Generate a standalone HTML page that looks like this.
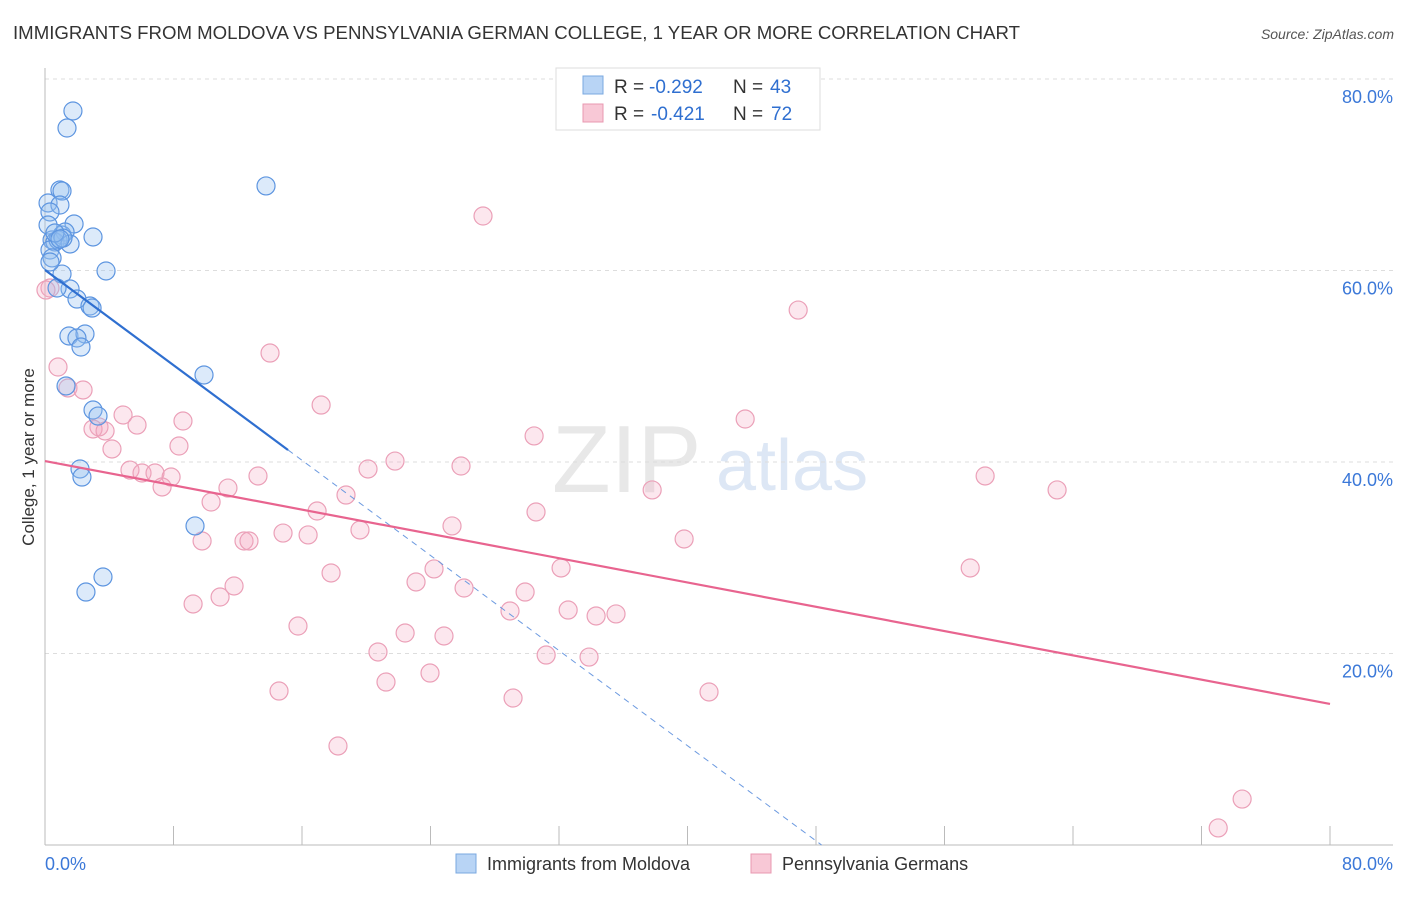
<!DOCTYPE html>
<html><head><meta charset="utf-8"><style>
body{margin:0;background:#fff;font-family:"Liberation Sans",sans-serif}
svg text{font-family:"Liberation Sans",sans-serif}
</style></head><body>
<svg id="chart" width="1406" height="892" xmlns="http://www.w3.org/2000/svg">
<text x="13" y="39" font-size="18" fill="#333" textLength="1007" lengthAdjust="spacingAndGlyphs">IMMIGRANTS FROM MOLDOVA VS PENNSYLVANIA GERMAN COLLEGE, 1 YEAR OR MORE CORRELATION CHART</text>
<text x="1394" y="39" font-size="14" fill="#555" text-anchor="end" font-style="italic">Source: ZipAtlas.com</text>
<text x="552" y="492" font-size="96" fill="#e8e8e8" font-family="Liberation Serif">ZIP</text>
<text x="716" y="490" font-size="72" fill="#dde7f5">atlas</text>
<g id="grid"></g>
<g id="axes"></g>
<g id="pts"></g>
<g id="lines"></g>
<text transform="translate(34,457) rotate(-90)" font-size="17" fill="#333" text-anchor="middle">College, 1 year or more</text>
<g>
<rect x="556" y="68" width="264" height="62" fill="#fff" stroke="#ddd"/>
<rect x="583" y="76" width="20" height="18" fill="#b8d4f5" stroke="#7aa8e0"/>
<rect x="583" y="104" width="20" height="18" fill="#f8c8d6" stroke="#e898b0"/>
<text x="614" y="93" font-size="19" fill="#333">R =</text>
<text x="649" y="93" font-size="19" fill="#2f6fd0">-0.292</text>
<text x="733" y="93" font-size="19" fill="#333">N =</text>
<text x="770" y="93" font-size="19" fill="#2f6fd0">43</text>
<text x="614" y="120" font-size="19" fill="#333">R =</text>
<text x="651" y="120" font-size="19" fill="#2f6fd0">-0.421</text>
<text x="733" y="120" font-size="19" fill="#333">N =</text>
<text x="771" y="120" font-size="19" fill="#2f6fd0">72</text>
</g>
<g>
<rect x="456" y="854" width="20" height="19" fill="#b8d4f5" stroke="#7aa8e0"/>
<text x="487" y="870" font-size="18" fill="#333">Immigrants from Moldova</text>
<rect x="751" y="854" width="20" height="19" fill="#f8c8d6" stroke="#e898b0"/>
<text x="782" y="870" font-size="18" fill="#333">Pennsylvania Germans</text>
</g>
</svg>
<script>
const blueX=[1.74,1.37,13.76,0.93,1.06,0.19,0.93,1.81,0.31,0.19,0.44,1.06,1.25,0.62,0.81,1.56,0.31,0.44,3.80,1.06,1.56,0.75,1.99,2.80,2.93,1.49,2.49,1.99,2.24,9.90,1.31,2.99,3.30,2.18,2.30,9.34,3.61,2.55,0.31,1.12,2.99,0.62,0.93];
const blueY=[76.66,74.88,68.83,68.41,68.30,67.05,66.84,64.86,66.11,64.75,63.19,63.71,64.02,62.98,63.19,62.77,62.14,61.31,59.95,59.63,58.07,58.17,57.02,56.29,56.08,53.16,53.37,52.95,52.01,49.09,47.94,45.43,44.80,39.27,38.43,33.32,27.99,26.42,60.89,63.39,63.50,63.92,63.29];
const pinkX=[0.31,0.81,1.43,2.37,3.36,2.99,4.86,5.73,3.74,4.17,8.59,8.34,14.01,17.19,5.29,6.04,6.85,7.85,7.29,10.34,11.39,13.26,9.78,12.39,12.70,14.82,16.38,16.94,18.74,19.61,20.11,21.79,25.90,27.27,30.45,30.57,25.34,23.10,24.22,26.09,17.81,15.75,9.22,10.90,11.77,14.57,18.24,20.73,21.23,22.42,23.97,24.84,29.14,28.95,29.89,31.20,32.13,32.57,33.87,34.31,35.55,37.80,39.79,41.34,43.59,46.89,57.60,58.53,63.01,73.04,74.53,0.06];
const pinkY=[58.17,49.92,47.73,47.52,43.66,43.45,44.91,43.86,43.24,41.36,44.28,41.67,51.38,45.95,39.16,38.85,38.85,38.43,37.39,35.82,37.28,38.54,31.75,31.75,31.75,32.58,32.38,34.88,36.55,32.90,39.27,40.10,39.58,65.69,42.72,34.78,33.32,27.47,28.83,26.84,28.41,22.87,25.17,25.90,27.05,16.08,10.34,20.16,17.02,22.14,17.96,21.83,15.35,24.44,26.42,19.84,28.93,24.54,19.63,23.92,24.13,37.08,31.96,15.98,44.49,55.87,28.93,38.54,37.08,1.78,4.80,57.96];
const yTicks=[20,40,60,80];
const yTickLabels=["20.0%","40.0%","60.0%","80.0%"];
const xTicks=[0,8,16,24,32,40,48,56,64,72,80];
const blueTrend=[60.05,-1.242,15.13];
const pinkTrend=[40.1,-0.3171];
const NS="http://www.w3.org/2000/svg";
const sx=v=>45+v*1285/80, sy=v=>845-v*766/80;
function mk(p,t,a){const e=document.createElementNS(NS,t);for(const k in a)e.setAttribute(k,a[k]);document.getElementById(p).appendChild(e);return e;}
yTicks.forEach((t,i)=>{
 const g=mk('grid','line',{x1:45,x2:1393,y1:sy(t),y2:sy(t),stroke:'#ddd','stroke-dasharray':'4,4'});
 
 
 const l=mk('axes','text',{x:1393,y:sy(t)+24,'font-size':18,fill:'#3b78d8','text-anchor':'end'});
 l.textContent=yTickLabels[i];
 
 
});
const ax=mk('axes','line',{x1:45,x2:1393,y1:845,y2:845,stroke:'#bbb'});


const ay=mk('axes','line',{x1:45,x2:45,y1:68,y2:845,stroke:'#bbb'});


xTicks.forEach(t=>{const k=mk('axes','line',{x1:sx(t),x2:sx(t),y1:826,y2:845,stroke:'#bbb'});
 
 });
const x0=mk('axes','text',{x:45,y:870,'font-size':18,fill:'#3b78d8'});x0.textContent='0.0%';


const x1=mk('axes','text',{x:1393,y:870,'font-size':18,fill:'#3b78d8','text-anchor':'end'});x1.textContent='80.0%';


pinkX.forEach((x,i)=>{const c=mk('pts','circle',{cx:sx(x),cy:sy(pinkY[i]),r:9,fill:'rgba(246,170,195,0.28)',stroke:'#eba0b8','stroke-width':1.2});
 
 });
blueX.forEach((x,i)=>{const c=mk('pts','circle',{cx:sx(x),cy:sy(blueY[i]),r:9,fill:'rgba(150,190,240,0.33)',stroke:'#5d95e0','stroke-width':1.2});
 
 });
const bz=-blueTrend[0]/blueTrend[1];
const b1=mk('lines','line',{x1:sx(0),y1:sy(blueTrend[0]),x2:sx(blueTrend[2]),y2:sy(blueTrend[0]+blueTrend[1]*blueTrend[2]),stroke:'#2f6fd0','stroke-width':2.2});


const b2=mk('lines','line',{x1:sx(blueTrend[2]),y1:sy(blueTrend[0]+blueTrend[1]*blueTrend[2]),x2:sx(bz),y2:sy(0),stroke:'#6c9ae0','stroke-width':1,'stroke-dasharray':'6,5'});


const p1=mk('lines','line',{x1:sx(0),y1:sy(pinkTrend[0]),x2:sx(80),y2:sy(pinkTrend[0]+pinkTrend[1]*80),stroke:'#e8648f','stroke-width':2.2});


</script>
</body></html>
